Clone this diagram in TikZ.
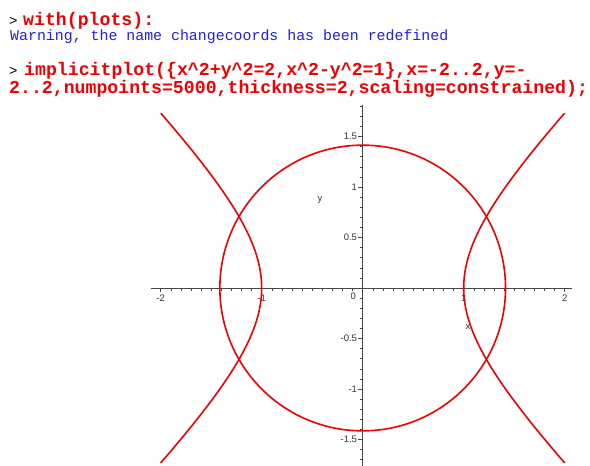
\documentclass[tikz,border=0pt]{standalone}
\usepackage{fontspec}
\setmonofont{Liberation Mono}
\setsansfont{Liberation Sans}
\definecolor{mred}{RGB}{240,0,0}
\definecolor{mblue}{RGB}{30,30,240}
\definecolor{axisgray}{RGB}{70,70,70}
\begin{document}
\begin{tikzpicture}[x=1pt,y=-1pt,
  prompt/.style={inner sep=0pt,anchor=base west,font=\ttfamily\fontsize{14}{16}\selectfont},
  cmd/.style={inner sep=0pt,anchor=base west,text=mred,font=\ttfamily\bfseries\fontsize{18.2}{20}\selectfont},
  warn/.style={inner sep=0pt,anchor=base west,text=mblue,font=\ttfamily\fontsize{14.9}{17}\selectfont},
  ticklab/.style={inner sep=0pt,font=\sffamily\fontsize{9.5}{10}\selectfont,text=black!80},
  curve/.style={mred,line width=1.6pt},
  axisline/.style={axisgray,line width=0.8pt},
  tickmark/.style={axisgray,line width=0.6pt}]
\useasboundingbox (0,0) rectangle (590,466);
% text lines
\node[prompt] (p1) at (9,25) {>};
\node[cmd] (l1) at (23,25) {with(plots):};
\node[warn] (w1) at (10,40) {Warning, the name changecoords has been redefined};
\node[prompt] (p2) at (9,75) {>};
\node[cmd] (l3) at (24,75) {implicitplot(\{x\textasciicircum 2+y\textasciicircum 2=2,x\textasciicircum 2-y\textasciicircum 2=1\},x=-2..2,y=-};
\node[cmd] (l4) at (9,93) {2..2,numpoints=5000,thickness=2,scaling=constrained);};
% plot
\begin{scope}[shift={(362.7pt,-288pt)},x=101pt,y=101pt]
  % axes
  \draw[axisline] (-2.1,0) -- (2.07,0);
  \draw[axisline] (0,1.81) -- (0,-1.8);
  \foreach \i in {-20,...,20}{
    \pgfmathsetmacro{\len}{ifthenelse(mod(abs(\i),10)==0,4,2.5)}
    \draw[tickmark] (\i/10,0) -- ++(0,-\len pt);
  }
  \foreach \i in {-18,...,18}{
    \pgfmathsetmacro{\len}{ifthenelse(mod(abs(\i),5)==0,5,3)}
    \draw[tickmark] (0,\i/10) -- ++(-\len pt,0);
  }
  % tick labels
  \node[ticklab] (xm2) at ([yshift=-10pt]-2,0) {-2};
  \node[ticklab] (xm1) at ([yshift=-10pt]-1,0) {-1};
  \node[ticklab] (xp1) at ([yshift=-10pt]1,0) {1};
  \node[ticklab] (xp2) at ([yshift=-10pt]2,0) {2};
  \node[ticklab] (o) at ([xshift=-9.5pt,yshift=-8pt]0,0) {0};
  \node[ticklab,anchor=east] (y15) at ([xshift=-5.5pt]0,1.5) {1.5};
  \node[ticklab,anchor=east] (y10) at ([xshift=-5.5pt]0,1) {1};
  \node[ticklab,anchor=east] (y05) at ([xshift=-5.5pt]0,0.5) {0.5};
  \node[ticklab,anchor=east] (ym05) at ([xshift=-5.5pt]0,-0.5) {-0.5};
  \node[ticklab,anchor=east] (ym10) at ([xshift=-5.5pt]0,-1) {-1};
  \node[ticklab,anchor=east] (ym15) at ([xshift=-5.5pt]0,-1.5) {-1.5};
  \node[ticklab] (ylab) at (-0.423,0.871) {y};
  \node[ticklab] (xlab) at (1.043,-0.386) {x};
  % curves
  \draw[curve] (0,0) circle[radius=142.84pt];
  \draw[curve] plot[domain=-1.317:1.317,samples=121,variable=\t,smooth] ({cosh(\t)},{sinh(\t)});
  \draw[curve] plot[domain=-1.317:1.317,samples=121,variable=\t,smooth] ({-cosh(\t)},{sinh(\t)});
\end{scope}
\end{tikzpicture}
\end{document}
